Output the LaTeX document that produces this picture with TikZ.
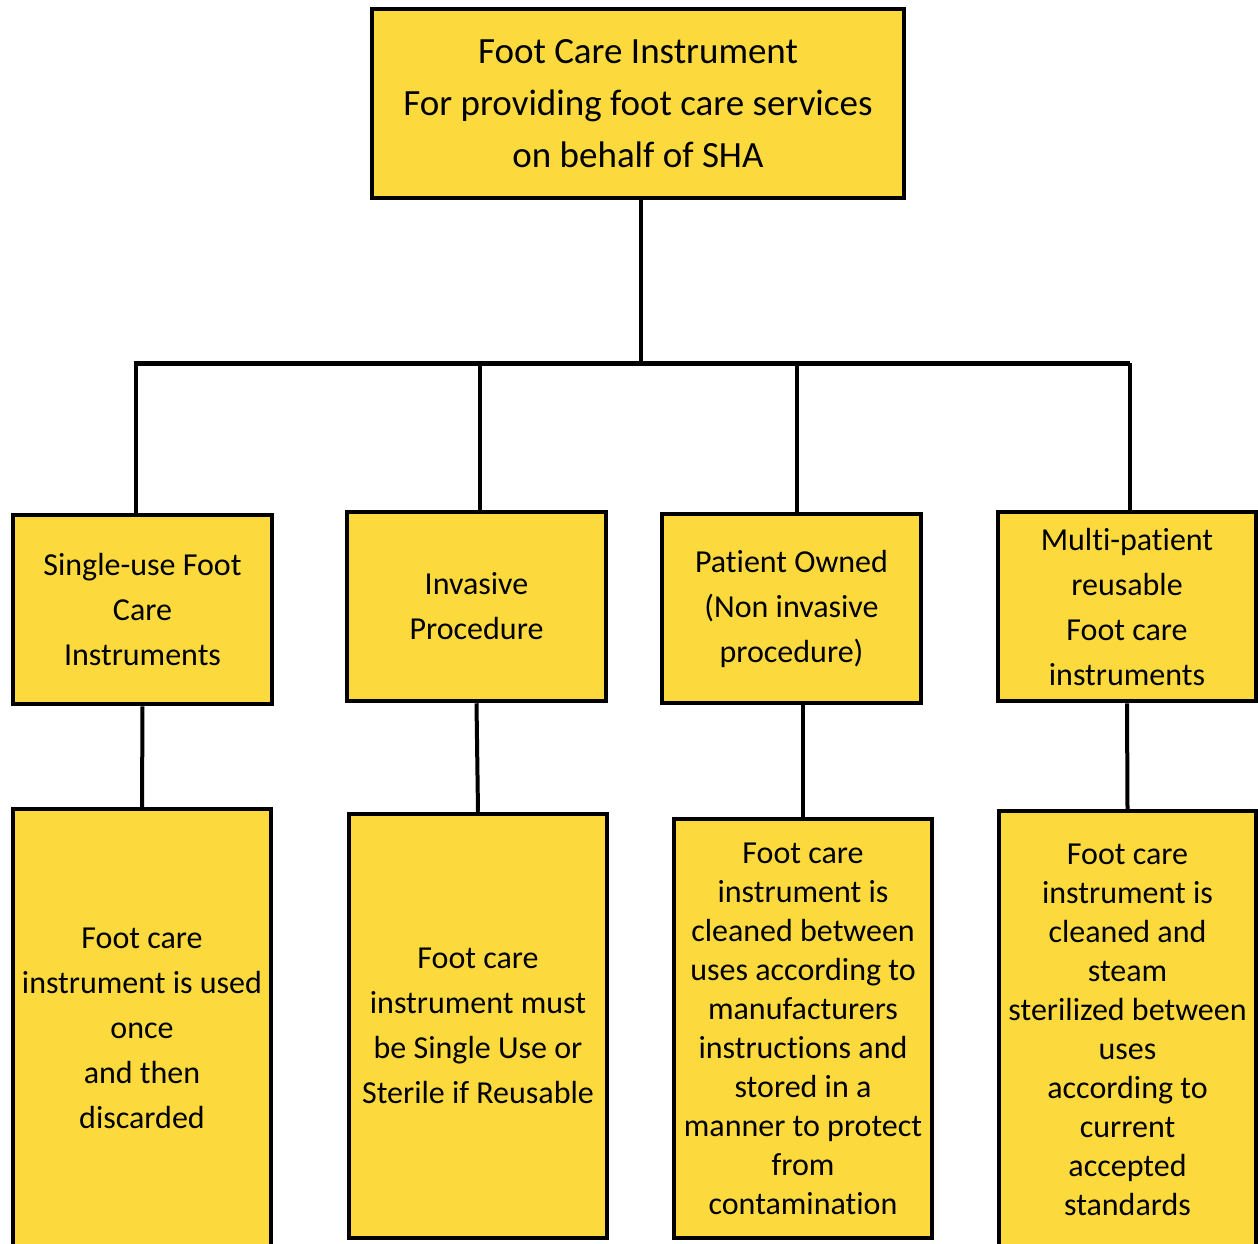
\documentclass[tikz,border=0pt]{standalone}
\usepackage{fontspec}
\setmainfont[RawFeature={-liga;-dlig;-clig;-calt}]{Carlito}
\definecolor{boxyellow}{RGB}{252,218,62}
\begin{document}
\begin{tikzpicture}[x=1pt,y=-1pt,
  box/.style={draw=black, line width=4.5pt, fill=boxyellow, align=center, inner sep=2pt},
  toptext/.style={font=\fontsize{37}{52}\selectfont},
  midtext/.style={font=\fontsize{32}{45}\selectfont},
  lowtext/.style={font=\fontsize{32}{39}\selectfont},
  link/.style={draw=black, line width=4pt},
  bar/.style={draw=black, line width=5pt}]
\clip (0,0) rectangle (1258,1243);
\fill[white] (0,0) rectangle (1258,1243);
% top
\node[box, toptext, minimum width=532pt, minimum height=189pt] (top) at (638,103.5)
  {Foot Care Instrument\\For providing foot care services\\on behalf of SHA};
% level 2
\node[box, midtext, minimum width=259pt, minimum height=189pt] (b1) at (142.5,609.5)
  {Single-use Foot\\Care\\Instruments};
\node[box, midtext, minimum width=259pt, minimum height=189pt] (b2) at (476.5,606.5)
  {Invasive\\Procedure};
\node[box, midtext, minimum width=259pt, minimum height=189pt] (b3) at (791.5,608.5)
  {Patient Owned\\(Non invasive\\procedure)};
\node[box, midtext, minimum width=258pt, minimum height=189pt] (b4) at (1127,606.5)
  {Multi-patient\\reusable\\Foot care\\instruments};
% level 3
\node[box, midtext, minimum width=258pt, minimum height=439pt] (b5) at (142,1028.5)
  {Foot care\\instrument is used\\once\\and then\\discarded};
\node[box, midtext, minimum width=258pt, minimum height=424pt] (b6) at (478,1026)
  {Foot care\\instrument must\\be Single Use or\\Sterile if Reusable};
\node[box, lowtext, minimum width=258pt, minimum height=419pt] (b7) at (803,1028.5)
  {Foot care\\instrument is\\cleaned between\\uses according to\\manufacturers\\instructions and\\stored in a\\manner to protect\\from\\contamination};
\node[box, lowtext, minimum width=257pt, minimum height=437pt] (b8) at (1127.5,1029.5)
  {Foot care\\instrument is\\cleaned and\\steam\\sterilized between\\uses\\according to\\current\\accepted\\standards};
% connectors
\coordinate (c0) at (641,363);
\coordinate (barL) at (134,363);
\coordinate (barR) at (1130,363);
\coordinate (c1) at (136,363);
\coordinate (c2) at (480,363);
\coordinate (c3) at (797,363);
\coordinate (c4) at (1130,363);
\draw[link] (c0 |- top.south) -- (c0);
\draw[bar] (barL) -- (barR);
\draw[link] (c1) -- (c1 |- b1.north);
\draw[link] (c2) -- (c2 |- b2.north);
\draw[link] (c3) -- (c3 |- b3.north);
\draw[link] (c4) -- (c4 |- b4.north);
\draw[link] (b1.south) -- (b5.north);
\draw[link] (b2.south) -- (b6.north);
\draw[link] (b3.south -| b7.north) -- (b7.north);
\draw[link] (b4.south) -- (b8.north);
\end{tikzpicture}
\end{document}
